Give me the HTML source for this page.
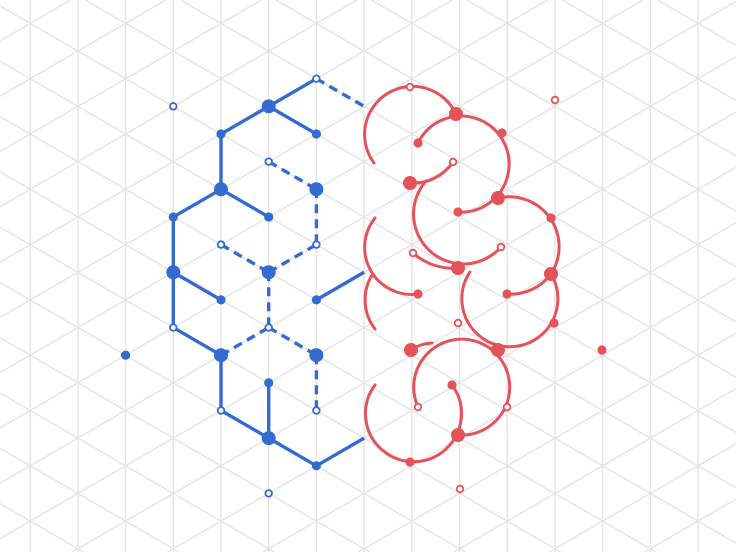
<!DOCTYPE html>
<html><head><meta charset="utf-8">
<style>html,body{margin:0;padding:0;background:#fff;width:736px;height:552px;overflow:hidden;}svg{display:block;}</style>
</head><body>
<svg id="art" width="736" height="552" viewBox="0 0 736 552" xmlns="http://www.w3.org/2000/svg" style="overflow:hidden">
<g id="grid" stroke="#e4e4e4" stroke-width="1.4"></g>
<g id="blue"></g>
<g id="red"></g>
</svg>
<script>
const NS='http://www.w3.org/2000/svg';
const DX=47.7, DY=55.3, OX=221, OY=134;
const BLUE='#336bd0', RED='#e5535a';
function X(c){return OX+c*DX;}
function Y(c,r){return OY+r*DY+((c%2!==0)?-DY/2:0);}
// blue nodes [col,row,type] type: 2 big, 1 small, 0 open
const blueNodes=[[0,0,1],[1,0,2],[2,-1,0],[2,0,1],[0,1,2],[-1,2,1],[1,2,1],[1,1,0],[2,1,2],[2,2,0],
[0,2,0],[1,3,2],[-1,3,2],[0,3,1],[2,3,1],[-1,4,0],[1,4,0],[0,4,2],[2,4,2],[2,5,0],[1,5,1],[0,5,0],[1,6,2],[2,6,1],[-2,4,1],[-1,0,0],[1,7,0]];
// blue edges [c1,r1,c2,r2,dashed]
const blueEdges=[[0,0,1,0,0],[1,0,2,-1,0],[1,0,2,0,0],[2,-1,3,0,1],[0,0,0,1,0],[0,1,-1,2,0],[0,1,1,2,0],
[1,1,2,1,1],[2,1,2,2,1],[-1,2,-1,3,0],[0,2,1,3,1],[1,3,2,2,1],[-1,3,0,3,0],[-1,3,-1,4,0],[1,3,1,4,1],
[2,3,3,3,0],[-1,4,0,4,0],[0,4,1,4,1],[1,4,2,4,1],[2,4,2,5,1],[0,4,0,5,0],[0,5,1,6,0],[1,5,1,6,0],[1,6,2,6,0],[2,6,3,6,0]];
// red arcs [x1,y1,x2,y2,r,large,sweep]
const redArcs=[[374,163,456,114,48,1,1],[410,183,453,162,48,0,0],[418,143,458,212,48,1,1],[426,181,501,247,48,1,0],
[375,218,418,294,47,0,0],[372,275,375,329,48,0,0],[413,253,458,268,60,0,0],[498,198,551,274,50,0,1],
[470,272,551,274,48,1,0],[507,294,551,274,50,0,0],[411,350,432,343,40,0,1],[418,407,458,435,48,1,1],[375,385,452,385,48,1,0]];
// red nodes [x,y,type]
const redNodes=[[456,114,2],[410,183,2],[498,198,2],[458,268,2],[551,274,2],[498,350,2],[411,350,2],[458,435,2],
[418,143,1],[502,133,1],[458,212,1],[551,218,1],[418,294,1],[507,294,1],[554,323,1],[452,385,1],[410,462,1],[602,350,1],
[410,87,0],[453,162,0],[501,247,0],[413,253,0],[458,323,0],[418,407,0],[507,407,0],[555,100,0],[460,489,0]];

const W=736,H=552;
const grid=document.getElementById('grid');
for(let k=-6;k<=12;k++){const x=X(k);if(x<0||x>W)continue;
 const l=document.createElementNS(NS,'line');
 
 
 l.setAttribute('x1',x);l.setAttribute('x2',x);l.setAttribute('y1',0);l.setAttribute('y2',H);grid.appendChild(l);}
const s=(DY/2)/DX;
for(const sg of [1,-1]){for(let k=-20;k<=30;k++){const y0=OY+k*DY;
 const m=sg*s, b=y0-m*OX; // y = m x + b
 let xa=0,xb=W;
 // clip x so y within [0,H]
 const xA=(0-b)/m, xB=(H-b)/m;
 const lo=Math.max(0,Math.min(xA,xB)), hi=Math.min(W,Math.max(xA,xB));
 if(hi-lo<1)continue;
 xa=lo;xb=hi;
 const l=document.createElementNS(NS,'line');
 
 
 l.setAttribute('x1',xa.toFixed(2));l.setAttribute('y1',(m*xa+b).toFixed(2));l.setAttribute('x2',xb.toFixed(2));l.setAttribute('y2',(m*xb+b).toFixed(2));grid.appendChild(l);}}

const blue=document.getElementById('blue');
for(const e of blueEdges){const l=document.createElementNS(NS,'line');
 
 
 l.setAttribute('x1',X(e[0]));l.setAttribute('y1',Y(e[0],e[1]));l.setAttribute('x2',X(e[2]));l.setAttribute('y2',Y(e[2],e[3]));
 l.setAttribute('stroke',BLUE);l.setAttribute('stroke-width',3.4);
 if(e[4])l.setAttribute('stroke-dasharray','9 6');blue.appendChild(l);}
function node(g,x,y,t,col,name){const c=document.createElementNS(NS,'circle');
 
 
 c.setAttribute('cx',x);c.setAttribute('cy',y);
 if(t===0){c.setAttribute('r',3.3);c.setAttribute('fill','#fff');c.setAttribute('stroke',col);c.setAttribute('stroke-width',1.8);}
 else{c.setAttribute('r',t===2?7:4.6);c.setAttribute('fill',col);}
 g.appendChild(c);}
for(const n of blueNodes)node(blue,X(n[0]),Y(n[0],n[1]),n[2],BLUE,'blue-node');

const red=document.getElementById('red');
for(const a of redArcs){const p=document.createElementNS(NS,'path');
 
 
 p.setAttribute('d',`M${a[0]} ${a[1]} A${a[4]} ${a[4]} 0 ${a[5]} ${a[6]} ${a[2]} ${a[3]}`);
 p.setAttribute('fill','none');p.setAttribute('stroke',RED);p.setAttribute('stroke-width',3);p.setAttribute('stroke-linecap','round');
 red.appendChild(p);}
for(const n of redNodes)node(red,n[0],n[1],n[2],RED,'red-node');
</script>
</body></html>
